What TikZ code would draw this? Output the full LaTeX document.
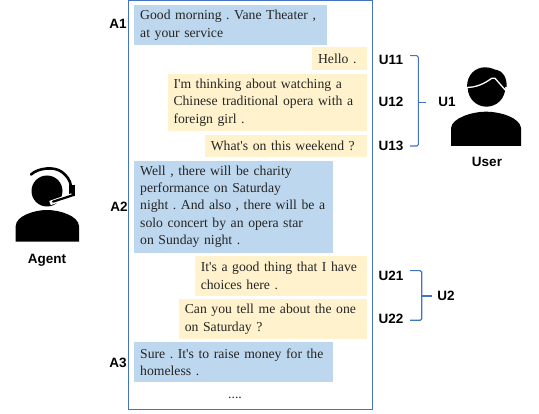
\documentclass[tikz,border=0pt]{standalone}
\usepackage{fontspec}
\newfontfamily\bubblefont{Liberation Serif}
\newfontfamily\labelfont{Liberation Sans}
\usepackage{xcolor}
\usetikzlibrary{positioning, calc}
\definecolor{agentblue}{HTML}{BDD7EE}
\definecolor{useryellow}{HTML}{FFF2CC}
\definecolor{framelink}{HTML}{4472C4}

\begin{document}
\begin{tikzpicture}[x=1pt, y=-1pt,
  every node/.style={font=\bubblefont\frenchspacing\fontsize{13.7}{17.3}\selectfont, text=black!85},
  agentbox/.style={fill=agentblue, anchor=north west, align=left, inner xsep=6pt, inner ysep=0pt},
  userbox/.style={fill=useryellow, anchor=north east, align=left, inner xsep=6pt, inner ysep=0pt},
  turnlabel/.style={font=\labelfont\bfseries\fontsize{13.5}{15}\selectfont, text=black, inner sep=0pt},
  bracket/.style={draw=framelink, line width=1.1pt, rounded corners=1.5pt}]
  \useasboundingbox (0,0) rectangle (539,414);
  % Dialogue frame
  \node[draw=framelink, line width=0.9pt, anchor=north west, minimum width=244pt,
        minimum height=408.5pt, inner sep=0pt] (frame) at (128.3,0.5) {};
  % Agent turns
  \node[agentbox, text width=181pt, minimum height=40pt] (a1) at (134,5)
    {Good morning . Vane Theater ,\\at your service};
  \node[agentbox, text width=187pt, minimum height=92pt] (a2) at (134,160.5)
    {Well , there will be charity\\performance on Saturday\\night . And also , there will be a\\solo concert by an opera star\\on Sunday night .};
  \node[agentbox, text width=187pt, minimum height=40pt] (a3) at (134,342.3)
    {Sure . It's to raise money for the\\homeless .};
  % User turns
  \node[userbox, text width=42.7pt, minimum height=23pt] (u11) at (367,47.3) {Hello .};
  \node[userbox, text width=187.3pt, minimum height=57.6pt] (u12) at (367,73.7)
    {I'm thinking about watching a\\Chinese traditional opera with a\\foreign girl .};
  \node[userbox, text width=150pt, minimum height=22.3pt] (u13) at (367,134.7) {What's on this weekend ?};
  \node[userbox, text width=160pt, minimum height=40pt] (u21) at (367,255.7)
    {It's a good thing that I have\\choices here .};
  \node[userbox, text width=176pt, minimum height=39.4pt] (u22) at (367,299.3)
    {Can you tell me about the one\\on Saturday ?};
  \node (more) at (235,398) {....};
  % Turn labels
  \node[turnlabel] (la1) at (118,24) {A1};
  \node[turnlabel] (la2) at (119,207) {A2};
  \node[turnlabel] (la3) at (118,363) {A3};
  \node[turnlabel] (lu11) at (391,60) {U11};
  \node[turnlabel] (lu12) at (391,102) {U12};
  \node[turnlabel] (lu13) at (391,146) {U13};
  \node[turnlabel] (lu21) at (391,276) {U21};
  \node[turnlabel] (lu22) at (391,319) {U22};
  \node[turnlabel] (lu1) at (447,102) {U1};
  \node[turnlabel] (lu2) at (446,296) {U2};
  % Brackets
  \coordinate (b1a) at (410,55.7);
  \coordinate (b1b) at (410,146);
  \coordinate (b1m) at (418.3,102.3);
  \coordinate (b1t) at (426,102.3);
  \draw[bracket] (b1a) -- (b1a -| b1m) -- (b1b -| b1m) -- (b1b);
  \draw[bracket] (b1m) -- (b1t);
  \coordinate (b2a) at (410,270.7);
  \coordinate (b2b) at (410,320.3);
  \coordinate (b2m) at (421.7,296);
  \coordinate (b2t) at (432,296);
  \draw[bracket] (b2a) -- (b2a -| b2m) -- (b2b -| b2m) -- (b2b);
  \draw[bracket] (b2m) -- (b2t);
  % Agent icon
  \fill (15.7,241.7) -- (15.7,226) .. controls (16,216) and (34,210) .. (47,210)
        .. controls (60,210) and (78.5,216) .. (79,226) -- (79,241.7) -- cycle;
  \fill (47,191) circle (15.5);
  \draw[line width=2.6pt, line cap=round] (31,174.5) .. controls (38,168) and (54,166) .. (62,172)
        .. controls (67,176) and (70,180) .. (71,186);
  \fill (68.5,185) rectangle (75,196);
  \draw[white, line width=4.5pt] (72,195.5) -- (50,203);
  \draw[line width=2.2pt, line cap=round] (73.5,195) -- (53,201.7);
  \node[turnlabel] (agent) at (47,260.5) {Agent};
  % User icon
  \fill (451,146) -- (451,128) .. controls (452,118) and (472,111.7) .. (486,111.7)
        .. controls (501,111.7) and (520,118) .. (521,128) -- (521,146) -- cycle;
  \fill (486.5,88) circle (18.7);
  \fill (467,87) .. controls (467,74) and (476,67.3) .. (485,67.3)
        .. controls (492,67.3) and (494,70) .. (497,70)
        .. controls (503,71) and (507,78) .. (506.7,87) -- cycle;
  \draw[white, line width=1.3pt] (466,87.5) .. controls (476,87.5) and (484,84) .. (491.7,78.3)
        -- (495,78.3) -- (507,92);
  \node[turnlabel] (user) at (487,162) {User};
\end{tikzpicture}
\end{document}
